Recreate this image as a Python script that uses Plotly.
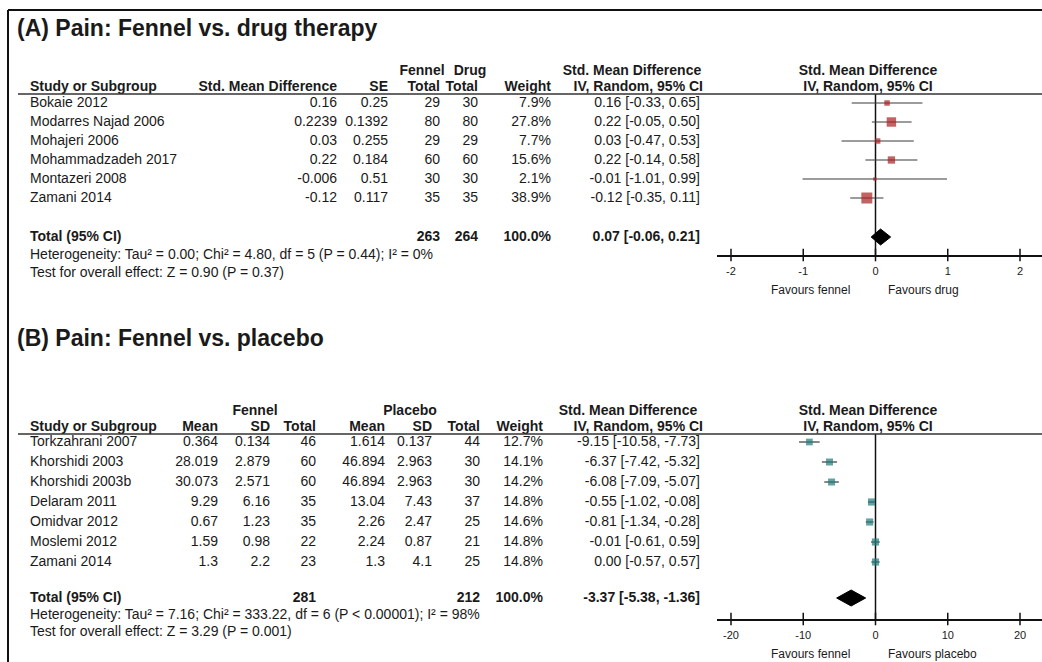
import plotly.graph_objects as go

W, H = 1042, 662

# ---------------- Panel A: Fennel vs. drug therapy ----------------
a_title = "(A) Pain: Fennel vs. drug therapy"
a_study = ["Bokaie 2012", "Modarres Najad 2006", "Mohajeri 2006",
           "Mohammadzadeh 2017", "Montazeri 2008", "Zamani 2014"]
a_smd = ["0.16", "0.2239", "0.03", "0.22", "-0.006", "-0.12"]
a_se = ["0.25", "0.1392", "0.255", "0.184", "0.51", "0.117"]
a_fennel_n = [29, 80, 29, 60, 30, 35]
a_drug_n = [30, 80, 29, 60, 30, 35]
a_weight = [7.9, 27.8, 7.7, 15.6, 2.1, 38.9]
a_est = [0.16, 0.22, 0.03, 0.22, -0.01, -0.12]
a_lo = [-0.33, -0.05, -0.47, -0.14, -1.01, -0.35]
a_hi = [0.65, 0.50, 0.53, 0.58, 0.99, 0.11]
a_total = [0.07, -0.06, 0.21]  # est, lo, hi
a_het = "Heterogeneity: Tau² = 0.00; Chi² = 4.80, df = 5 (P = 0.44); I² = 0%"
a_test = "Test for overall effect: Z = 0.90 (P = 0.37)"
a_ticks = [-2, -1, 0, 1, 2]
a_fav = ["Favours fennel", "Favours drug"]

# ---------------- Panel B: Fennel vs. placebo ----------------
b_title = "(B) Pain: Fennel vs. placebo"
b_study = ["Torkzahrani 2007", "Khorshidi 2003", "Khorshidi 2003b", "Delaram 2011",
           "Omidvar 2012", "Moslemi 2012", "Zamani 2014"]
b_f_mean = ["0.364", "28.019", "30.073", "9.29", "0.67", "1.59", "1.3"]
b_f_sd = ["0.134", "2.879", "2.571", "6.16", "1.23", "0.98", "2.2"]
b_f_n = [46, 60, 60, 35, 35, 22, 23]
b_p_mean = ["1.614", "46.894", "46.894", "13.04", "2.26", "2.24", "1.3"]
b_p_sd = ["0.137", "2.963", "2.963", "7.43", "2.47", "0.87", "4.1"]
b_p_n = [44, 30, 30, 37, 25, 21, 25]
b_weight = [12.7, 14.1, 14.2, 14.8, 14.6, 14.8, 14.8]
b_est = [-9.15, -6.37, -6.08, -0.55, -0.81, -0.01, 0.00]
b_lo = [-10.58, -7.42, -7.09, -1.02, -1.34, -0.61, -0.57]
b_hi = [-7.73, -5.32, -5.07, -0.08, -0.28, 0.59, 0.57]
b_total = [-3.37, -5.38, -1.36]
b_het = "Heterogeneity: Tau² = 7.16; Chi² = 333.22, df = 6 (P < 0.00001); I² = 98%"
b_test = "Test for overall effect: Z = 3.29 (P = 0.001)"
b_ticks = [-20, -10, 0, 10, 20]
b_fav = ["Favours fennel", "Favours placebo"]

# ---------------- layout constants (pixels) ----------------
FONT = "Liberation Sans, Arial, Helvetica, sans-serif"
TC = "#1a1a1a"
FS = 14
A = dict(title=30, h1=71, h2=87, line=94, row0=103, dy=19, total=237, het=255, test=273, axis=255)
B = dict(title=340, h1=411, h2=427, line=434, row0=442, dy=20, total=598, het=615, test=632, axis=619)
FX0, FX1 = 717, W          # forest axis pixel extent
TL, TR = 731, 1020          # pixel positions of first/last tick

fig = go.Figure()


def text_col(x, ys, texts, pos, size=FS, xa="x", ya="y", color=TC):
    ys = list(ys)
    fig.add_trace(go.Scatter(x=[x] * len(ys), y=ys, text=list(texts), mode="text",
                             textposition=pos,
                             textfont=dict(family=FONT, size=size, color=color),
                             xaxis=xa, yaxis=ya, hoverinfo="skip", showlegend=False,
                             cliponaxis=False))


def bold(s):
    return "<b>%s</b>" % s


def ci_txt(e, l, h):
    return "%.2f [%.2f, %.2f]" % (e, l, h)


# ---------- Panel A table ----------
text_col(17, [A["title"]], [bold(a_title)], "middle right", size=23)
text_col(422, [A["h1"]], [bold("Fennel")], "middle center")
text_col(470, [A["h1"]], [bold("Drug")], "middle center")
text_col(632, [A["h1"]], [bold("Std. Mean Difference")], "middle center")
text_col(868, [A["h1"]], [bold("Std. Mean Difference")], "middle center")
text_col(30, [A["h2"]], [bold("Study or Subgroup")], "middle right")
for x, s in [(337, "Std. Mean Difference"), (388, "SE"), (440, "Total"), (478, "Total"),
             (551, "Weight"), (703, "IV, Random, 95% CI")]:
    text_col(x, [A["h2"]], [bold(s)], "middle left")
text_col(868, [A["h2"]], [bold("IV, Random, 95% CI")], "middle center")

a_rows = [A["row0"] + A["dy"] * i for i in range(len(a_study))]
text_col(30, a_rows, a_study, "middle right")
text_col(337, a_rows, a_smd, "middle left")
text_col(388, a_rows, a_se, "middle left")
text_col(440, a_rows, [str(v) for v in a_fennel_n], "middle left")
text_col(478, a_rows, [str(v) for v in a_drug_n], "middle left")
text_col(551, a_rows, ["%.1f%%" % w for w in a_weight], "middle left")
text_col(700, a_rows, [ci_txt(e, l, h) for e, l, h in zip(a_est, a_lo, a_hi)], "middle left")
text_col(30, [A["total"]], [bold("Total (95% CI)")], "middle right")
text_col(440, [A["total"]], [bold(sum(a_fennel_n))], "middle left")
text_col(478, [A["total"]], [bold(sum(a_drug_n))], "middle left")
text_col(551, [A["total"]], [bold("%.1f%%" % sum(a_weight))], "middle left")
text_col(700, [A["total"]], [bold(ci_txt(*a_total))], "middle left")
text_col(30, [A["het"]], [a_het], "middle right")
text_col(30, [A["test"]], [a_test], "middle right")

# ---------- Panel B table ----------
text_col(17, [B["title"]], [bold(b_title)], "middle right", size=23)
text_col(255, [B["h1"]], [bold("Fennel")], "middle center")
text_col(410, [B["h1"]], [bold("Placebo")], "middle center")
text_col(628, [B["h1"]], [bold("Std. Mean Difference")], "middle center")
text_col(868, [B["h1"]], [bold("Std. Mean Difference")], "middle center")
text_col(30, [B["h2"]], [bold("Study or Subgroup")], "middle right")
for x, s in [(218, "Mean"), (270, "SD"), (316, "Total"), (385, "Mean"), (432, "SD"),
             (480, "Total"), (543, "Weight"), (703, "IV, Random, 95% CI")]:
    text_col(x, [B["h2"]], [bold(s)], "middle left")
text_col(868, [B["h2"]], [bold("IV, Random, 95% CI")], "middle center")

b_rows = [B["row0"] + B["dy"] * i for i in range(len(b_study))]
text_col(30, b_rows, b_study, "middle right")
text_col(218, b_rows, b_f_mean, "middle left")
text_col(270, b_rows, b_f_sd, "middle left")
text_col(316, b_rows, [str(v) for v in b_f_n], "middle left")
text_col(385, b_rows, b_p_mean, "middle left")
text_col(432, b_rows, b_p_sd, "middle left")
text_col(480, b_rows, [str(v) for v in b_p_n], "middle left")
text_col(543, b_rows, ["%.1f%%" % w for w in b_weight], "middle left")
text_col(700, b_rows, [ci_txt(e, l, h) for e, l, h in zip(b_est, b_lo, b_hi)], "middle left")
text_col(30, [B["total"]], [bold("Total (95% CI)")], "middle right")
text_col(316, [B["total"]], [bold(sum(b_f_n))], "middle left")
text_col(480, [B["total"]], [bold(sum(b_p_n))], "middle left")
text_col(543, [B["total"]], [bold("%.1f%%" % sum(b_weight))], "middle left")
text_col(700, [B["total"]], [bold(ci_txt(*b_total))], "middle left")
text_col(30, [B["het"]], [b_het], "middle right")
text_col(30, [B["test"]], [b_test], "middle right")

annotations = []


# ---------- forest plots ----------
def forest(P, est, lo, hi, weights, total, ticks, fav, xa, ya, mcolor):
    rows = [P["row0"] + P["dy"] * i for i in range(len(est))]
    # zero line
    fig.add_trace(go.Scatter(x=[0, 0], y=[P["line"], P["axis"]], mode="lines",
                             line=dict(color="#111111", width=1.5), xaxis=xa, yaxis=ya,
                             hoverinfo="skip", showlegend=False, cliponaxis=False))
    # CI lines
    xs, ys = [], []
    for l, h, y in zip(lo, hi, rows):
        xs += [l, h, None]
        ys += [y, y, None]
    fig.add_trace(go.Scatter(x=xs, y=ys, mode="lines", line=dict(color="#3a3a3a", width=1.2),
                             xaxis=xa, yaxis=ya, hoverinfo="skip", showlegend=False))
    # weight squares
    sizes = [16 * (w / 100.0) ** 0.5 + 1 for w in weights]
    fig.add_trace(go.Scatter(x=est, y=rows, mode="markers",
                             marker=dict(symbol="square", size=sizes, color=mcolor,
                                         line=dict(width=0)),
                             xaxis=xa, yaxis=ya, hoverinfo="skip", showlegend=False))
    # pooled diamond
    e, l, h = total
    yt = P["total"]
    fig.add_trace(go.Scatter(x=[l, e, h, e, l], y=[yt, yt - 8, yt, yt + 8, yt], mode="lines",
                             fill="toself", fillcolor="#000000", line=dict(color="#000000", width=1),
                             xaxis=xa, yaxis=ya, hoverinfo="skip", showlegend=False))
    # tick marks crossing the axis
    fig.add_trace(go.Scatter(x=ticks, y=[P["axis"]] * len(ticks), mode="markers",
                             marker=dict(symbol="line-ns-open", size=9, color="#111111",
                                         line=dict(color="#111111", width=1.5)),
                             xaxis=xa, yaxis=ya, hoverinfo="skip", showlegend=False,
                             cliponaxis=False))
    # favours labels
    for txt, anchor, shift in [(fav[0], "right", -24), (fav[1], "left", 10)]:
        annotations.append(dict(text=txt, xref=xa, yref="y", x=0, y=P["axis"] + 35,
                                xanchor=anchor, yanchor="middle", xshift=shift, showarrow=False,
                                font=dict(family=FONT, size=12, color=TC)))


def xrange_for(ticks):
    per_px = (ticks[-1] - ticks[0]) / float(TR - TL)
    return [ticks[0] - (TL - FX0) * per_px, ticks[-1] + (FX1 - TR) * per_px]


forest(A, a_est, a_lo, a_hi, a_weight, a_total, a_ticks, a_fav, "x2", "y2", "#a82020")
forest(B, b_est, b_lo, b_hi, b_weight, b_total, b_ticks, b_fav, "x3", "y3", "#1f7a7a")

axis_common = dict(showgrid=False, zeroline=False, showline=True, linecolor="#111111",
                   linewidth=2, ticks="", tickfont=dict(family=FONT, size=11, color=TC),
                   ticklabelstandoff=5, fixedrange=True)

fig.update_layout(
    width=W, height=H, autosize=False,
    margin=dict(l=0, r=0, t=0, b=0),
    paper_bgcolor="white", plot_bgcolor="rgba(0,0,0,0)",
    xaxis=dict(range=[0, W], domain=[0, 1], visible=False, fixedrange=True),
    yaxis=dict(range=[H, 0], domain=[0, 1], visible=False, fixedrange=True),
    xaxis2=dict(domain=[FX0 / W, 1], range=xrange_for(a_ticks), anchor="y2",
                tickvals=a_ticks, ticktext=[str(t) for t in a_ticks], **axis_common),
    yaxis2=dict(domain=[1 - A["axis"] / H, 1 - A["line"] / H], range=[A["axis"], A["line"]],
                anchor="x2", visible=False, fixedrange=True),
    xaxis3=dict(domain=[FX0 / W, 1], range=xrange_for(b_ticks), anchor="y3",
                tickvals=b_ticks, ticktext=[str(t) for t in b_ticks], **axis_common),
    yaxis3=dict(domain=[1 - B["axis"] / H, 1 - B["line"] / H], range=[B["axis"], B["line"]],
                anchor="x3", visible=False, fixedrange=True),
    annotations=annotations,
    shapes=[
        dict(type="line", xref="x", yref="y", x0=8, x1=W, y0=10, y1=10,
             line=dict(color="#111111", width=2)),
        dict(type="line", xref="x", yref="y", x0=8, x1=8, y0=10, y1=H,
             line=dict(color="#111111", width=2)),
        dict(type="line", xref="x", yref="y", x0=18, x1=W, y0=A["line"], y1=A["line"],
             line=dict(color="#333333", width=1.5)),
        dict(type="line", xref="x", yref="y", x0=18, x1=W, y0=B["line"], y1=B["line"],
             line=dict(color="#333333", width=1.5)),
    ],
)

fig.write_html("out.html", config={"displayModeBar": False, "staticPlot": True},
               post_script="document.body.style.margin='0px';document.body.style.overflow='hidden';")
